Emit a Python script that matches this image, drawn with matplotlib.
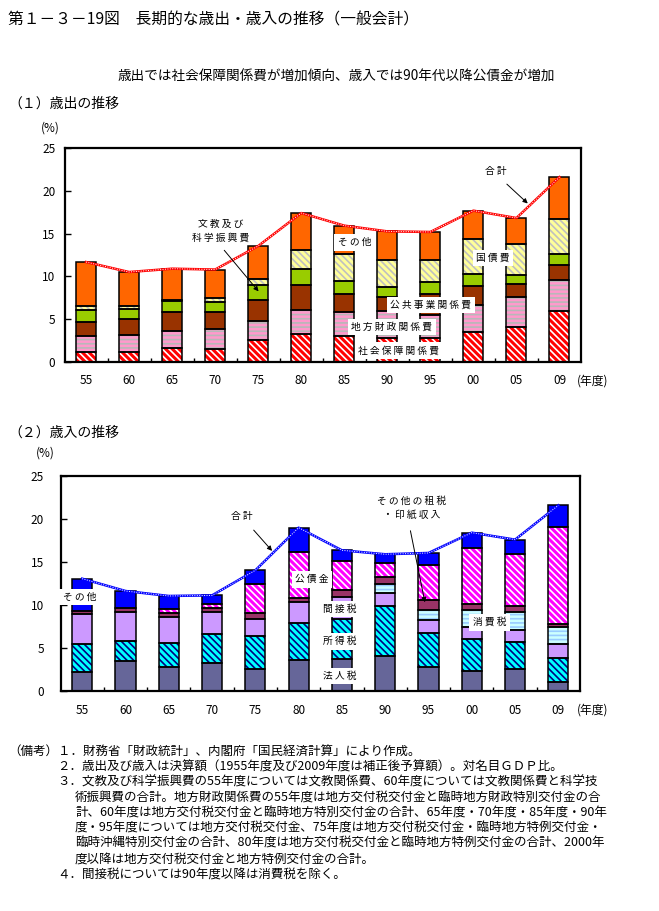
import matplotlib
matplotlib.use("Agg")
import matplotlib.pyplot as plt
import numpy as np

plt.rcParams['font.family'] = ['Noto Sans CJK JP', 'DejaVu Sans']
plt.rcParams['hatch.linewidth'] = 1.2

# 年度
nendo = ["55", "60", "65", "70", "75", "80", "85", "90", "95", "00", "05", "09"]

# (1) 歳出（対名目GDP比, %）
shakai_hosho = [1.2, 1.2, 1.6, 1.5, 2.6, 3.27, 3.0, 2.8, 2.8, 3.47, 4.05, 6.0]
chiho_zaisei = [1.8, 1.9, 2.0, 2.35, 2.23, 2.84, 2.84, 3.2, 2.7, 3.15, 3.5, 3.54]
kokyo_jigyo = [1.63, 1.87, 2.2, 2.0, 2.37, 2.85, 2.14, 1.6, 2.45, 2.22, 1.52, 1.83]
bunkyo = [1.4, 1.24, 1.3, 1.15, 1.8, 1.9, 1.44, 1.12, 1.35, 1.4, 1.09, 1.25]
kokusai = [0.55, 0.3, 0.1, 0.45, 0.7, 2.2, 3.16, 3.23, 2.58, 4.16, 3.66, 4.12]
sonota_sai = [5.1, 4.0, 3.7, 3.35, 3.85, 4.34, 3.35, 3.31, 3.31, 3.28, 3.0, 4.86]

# (2) 歳入（対名目GDP比, %）
hojin = [2.2, 3.45, 2.8, 3.3, 2.6, 3.57, 3.7, 4.07, 2.8, 2.29, 2.6, 1.0]
shotoku = [3.3, 2.36, 2.83, 3.37, 3.76, 4.33, 4.7, 5.77, 3.9, 3.8, 3.1, 2.88]
kansetsu = [3.45, 3.41, 2.95, 2.5, 2.0, 2.4, 2.5, 1.6, 1.6, 1.35, 1.35, 1.55]
shohi = [0, 0, 0, 0, 0, 0, 0, 0.97, 1.17, 2.02, 2.14, 1.97]
sonota_sozei = [0.4, 0.4, 0.45, 0.5, 0.7, 0.55, 0.85, 0.86, 1.08, 0.7, 0.65, 0.43]
kosaikin = [0, 0, 0.55, 0.45, 3.37, 5.27, 3.4, 1.64, 4.15, 6.47, 6.09, 11.24]
sonota_sainyu = [3.71, 2.01, 1.47, 1.0, 1.6, 2.87, 1.21, 0.99, 1.35, 1.78, 1.67, 2.52]

W, H = 659, 911
x = np.arange(len(nendo))
bw = 0.465


def fx(px):
    return px / W


def fy(py):
    return 1 - py / H


def draw_stack(ax, layers):
    bottom = np.zeros(len(nendo))
    for vals, face, hatch, hcol in layers:
        v = np.array(vals, dtype=float)
        m = v > 0
        if hatch:
            ax.bar(x[m], v[m], bw, bottom=bottom[m], color=face, edgecolor=hcol,
                   hatch=hatch, linewidth=0, zorder=2)
        else:
            ax.bar(x[m], v[m], bw, bottom=bottom[m], color=face, linewidth=0, zorder=2)
        ax.bar(x[m], v[m], bw, bottom=bottom[m], facecolor='none', edgecolor='black',
               linewidth=1.1, zorder=3)
        bottom = bottom + v
    return bottom


def style_axes(ax, ypad):
    ax.set_xlim(-0.5, len(nendo) - 0.5)
    ax.set_ylim(0, 25)
    ax.set_yticks([0, 5, 10, 15, 20, 25])
    ax.set_xticks(x)
    ax.set_xticklabels(nendo, fontsize=8.5)
    ax.set_xticks(x[:-1] + 0.5, minor=True)
    ax.tick_params(axis='x', which='major', length=0, pad=9)
    ax.tick_params(axis='x', which='minor', direction='in', length=3, width=1)
    ax.tick_params(axis='y', direction='in', length=4, width=1, labelsize=8.5, pad=ypad)
    for s in ax.spines.values():
        s.set_linewidth(1.6)


def total_line(ax, tot, col):
    ax.plot(x, tot, color=col, lw=1.8, zorder=4)
    ax.plot(x, tot, color='white', lw=0.7, ls=(0, (1, 1.5)), zorder=5)


def label(ax, xx, yy, s, fs=7):
    ax.text(xx, yy, s, fontsize=fs, ha='center', va='center', zorder=6,
            bbox=dict(boxstyle='square,pad=0.35', facecolor='white', edgecolor='none'))


fig = plt.figure(figsize=(W / 100, H / 100), dpi=100)

fig.text(fx(8), fy(20), "第１－３－19図　長期的な歳出・歳入の推移（一般会計）", fontsize=11.3, va='center')
fig.text(fx(336), fy(77), "歳出では社会保障関係費が増加傾向、歳入では90年代以降公債金が増加",
         fontsize=9.8, ha='center', va='center')

# (1) 歳出
fig.text(fx(8), fy(104), "（１）歳出の推移", fontsize=10, va='center')
fig.text(fx(50), fy(128), "(%)", fontsize=8.5, ha='center', va='center')
ax1 = fig.add_axes([fx(64.5), fy(362), fx(581) - fx(64.5), fy(148) - fy(362)])
tot1 = draw_stack(ax1, [
    (shakai_hosho, '#FF0000', '\\\\\\\\\\', 'white'),
    (chiho_zaisei, '#FF99CC', '----', '#B8B8B8'),
    (kokyo_jigyo, '#993300', None, None),
    (bunkyo, '#99CC00', None, None),
    (kokusai, '#FFFF99', '\\\\\\\\\\', '#C0C0C0'),
    (sonota_sai, '#FF6600', None, None),
])
total_line(ax1, tot1, 'red')
style_axes(ax1, 6.5)
fig.text(fx(577), fy(381), "(年度)", fontsize=8.5, va='center')

ax1.annotate("", xy=(4.05, 8.0), xytext=(3.17, 13.3),
             arrowprops=dict(arrowstyle='-|>', color='black', lw=0.7, mutation_scale=7), zorder=6)
ax1.text(3.13, 15.3, "文 教 及 び\n科 学 振 興 費", fontsize=7, ha='center', va='center',
         linespacing=1.5, zorder=6)
label(ax1, 6.24, 14.0, "そ の 他")
ax1.annotate("", xy=(10.31, 18.3), xytext=(9.73, 21.0),
             arrowprops=dict(arrowstyle='-|>', color='black', lw=0.7, mutation_scale=7), zorder=6)
ax1.text(9.52, 22.3, "合 計", fontsize=7, ha='center', va='center', zorder=6)
label(ax1, 9.45, 12.15, "国 債 費")
label(ax1, 8.01, 6.66, "公 共 事 業 関 係 費")
label(ax1, 7.1, 4.1, "地 方 財 政 関 係 費")
label(ax1, 7.27, 1.3, "社 会 保 障 関 係 費")

# (2) 歳入
fig.text(fx(8), fy(433), "（２）歳入の推移", fontsize=10, va='center')
fig.text(fx(45), fy(453), "(%)", fontsize=8.5, ha='center', va='center')
ax2 = fig.add_axes([fx(60.5), fy(691), fx(580) - fx(60.5), fy(476) - fy(691)])
tot2 = draw_stack(ax2, [
    (hojin, '#666699', None, None),
    (shotoku, '#00FFFF', '\\\\\\\\\\', '#000080'),
    (kansetsu, '#CC99FF', None, None),
    (shohi, '#CCFFFF', '----', '#99CCFF'),
    (sonota_sozei, '#993366', None, None),
    (kosaikin, '#FF00FF', '\\\\\\\\\\', 'white'),
    (sonota_sainyu, '#0000FF', None, None),
])
total_line(ax2, tot2, 'blue')
style_axes(ax2, 12)
fig.text(fx(577), fy(710), "(年度)", fontsize=8.5, va='center')

ax2.annotate("", xy=(4.43, 16.05), xytext=(3.92, 18.95),
             arrowprops=dict(arrowstyle='-|>', color='black', lw=0.7, mutation_scale=7), zorder=6)
ax2.text(3.69, 20.35, "合 計", fontsize=7, ha='center', va='center', zorder=6)
label(ax2, -0.06, 10.93, "そ の 他")
label(ax2, 5.31, 13.0, "公 債 金")
label(ax2, 5.94, 9.53, "間 接 税")
label(ax2, 5.94, 5.8, "所 得 税")
label(ax2, 5.94, 1.74, "法 人 税")
ax2.annotate("", xy=(7.93, 10.0), xytext=(7.57, 18.95),
             arrowprops=dict(arrowstyle='-|>', color='black', lw=0.7, mutation_scale=7), zorder=6)
ax2.text(7.61, 21.25, "そ の 他 の 租 税\n・ 印 紙 収 入", fontsize=7, ha='center', va='center',
         linespacing=1.5, zorder=6)
label(ax2, 9.41, 8.0, "消 費 税")

# 備考
notes = [
    (8, "（備考）１．財務省「財政統計」、内閣府「国民経済計算」により作成。"),
    (57, "２．歳出及び歳入は決算額（1955年度及び2009年度は補正後予算額）。対名目ＧＤＰ比。"),
    (57, "３．文教及び科学振興費の55年度については文教関係費、60年度については文教関係費と科学技"),
    (75, "術振興費の合計。地方財政関係費の55年度は地方交付税交付金と臨時地方財政特別交付金の合"),
    (75, "計、60年度は地方交付税交付金と臨時地方特別交付金の合計、65年度・70年度・85年度・90年"),
    (75, "度・95年度については地方交付税交付金、75年度は地方交付税交付金・臨時地方特例交付金・"),
    (75, "臨時沖縄特別交付金の合計、80年度は地方交付税交付金と臨時地方特例交付金の合計、2000年"),
    (75, "度以降は地方交付税交付金と地方特例交付金の合計。"),
    (57, "４．間接税については90年度以降は消費税を除く。"),
]
for i, (px, s) in enumerate(notes):
    fig.text(fx(px), fy(752 + 15.25 * i), s, fontsize=9.0, va='center')

fig.savefig("out.png", dpi=100)
